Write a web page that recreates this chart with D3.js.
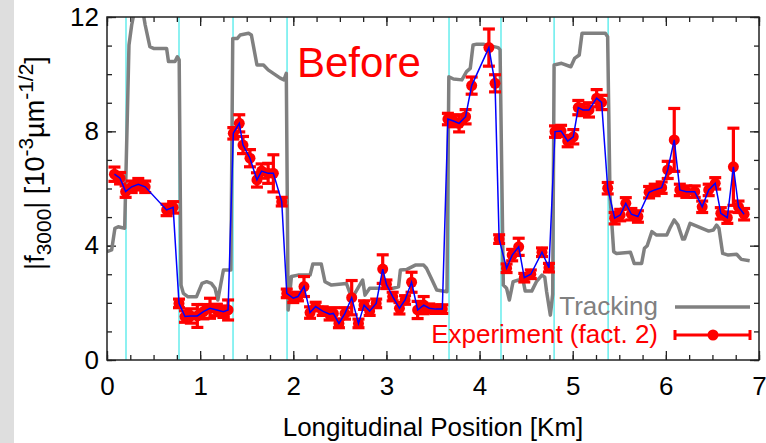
<!DOCTYPE html>
<meta charset="utf-8">
<html>
<head>
<style type="text/css">
  body { margin:0; background:#fff; }
  svg { display:block; }
  .lbl { font-family: "Liberation Sans", Arial, Helvetica, sans-serif; }
</style>
<script src="https://d3js.org/d3.v7.min.js"></script>
</head>
<body>
<svg width="766" height="443"></svg>
<script type="text/javascript">
// experiment (fact. 2): position [km], value, error
var expX = [0.08,0.14,0.20,0.265,0.336,0.41,0.64,0.71,
  0.773,0.837,0.90,0.97,1.035,1.106,1.18,1.25,1.30,
  1.356,1.42,1.46,1.535,1.61,1.66,1.73,1.786,1.876,
  1.93,2.0,2.05,2.115,2.18,2.24,2.316,2.39,2.43,2.49,2.555,2.627,2.70,2.76,2.82,2.89,2.96,3.0,3.067,3.14,3.2,3.27,3.335,3.40,3.46,3.53,3.60,
  3.66,3.72,3.78,3.85,3.915,4.10,4.166,
  4.21,4.29,4.35,4.42,4.48,4.55,4.67,4.745,
  4.81,4.875,4.946,5.006,5.06,5.11,5.175,5.257,5.31,
  5.376,5.45,5.51,5.57,5.63,5.70,5.82,5.88,5.955,6.02,6.09,6.15,6.22,6.31,6.39,6.46,6.53,6.59,6.66,6.725,6.78,6.84];
var expY = [6.50,6.36,5.89,6.06,6.15,6.06,5.25,5.34,
  1.98,1.52,1.54,1.54,1.69,1.81,1.75,1.69,1.75,
  7.93,8.28,7.52,7.06,6.30,6.61,6.53,6.53,5.54,
  2.33,2.16,2.22,2.57,1.66,1.87,1.71,1.60,1.63,1.28,1.63,2.18,1.28,1.92,1.71,1.98,3.18,2.65,2.22,1.81,2.10,2.72,1.75,1.92,1.81,1.78,1.78,
  8.43,8.36,8.28,8.51,9.60,10.93,9.68,
  4.23,3.21,3.67,3.96,2.88,3.00,3.77,3.23,
  7.99,8.01,7.66,7.81,8.83,8.75,8.75,9.16,9.01,
  6.01,4.96,5.07,5.48,5.10,5.02,5.87,5.95,6.03,6.65,7.70,5.95,5.89,5.89,5.36,5.95,6.18,5.13,4.98,6.76,5.36,5.10];
var expErr = [0.25,0.2,0.2,0.2,0.2,0.2,0.2,0.2,
  0.15,0.2,0.25,0.4,0.25,0.35,0.2,0.2,0.35,
  0.2,0.3,0.3,0.3,0.25,0.25,0.35,0.65,0.15,
  0.15,0.15,0.15,0.35,0.2,0.15,0.15,0.2,0.2,0.15,0.2,0.6,0.15,0.15,0.15,0.15,0.5,0.15,0.15,0.2,0.15,0.35,0.3,0.3,0.15,0.15,0.15,
  0.2,0.2,0.3,0.25,0.3,0.65,0.3,
  0.15,0.15,0.2,0.3,0.15,0.15,0.15,0.15,
  0.2,0.2,0.2,0.25,0.25,0.2,0.25,0.3,0.25,
  0.2,0.2,0.2,0.2,0.2,0.2,0.2,0.2,0.2,0.3,1.1,0.2,0.2,0.2,0.2,0.2,0.2,0.2,0.2,1.35,0.2,0.2];

// tracking curve
var trkX = [0.0,0.05,0.085,0.12,0.19,0.236,0.265,0.30,0.38,0.41,0.46,0.50,0.64,0.66,0.73,0.755,0.775,0.795,0.82,0.87,0.96,1.02,1.07,1.12,1.16,1.19,1.25,1.33,
  1.35,1.40,1.43,1.52,1.55,1.61,1.68,1.73,1.86,1.90,1.925,1.945,1.98,2.05,2.18,2.21,2.30,2.34,2.41,2.57,2.63,2.745,2.77,2.82,3.07,3.13,3.15,3.22,3.31,3.40,3.43,3.49,3.54,3.65,
  3.67,3.72,3.81,3.86,3.90,3.93,3.97,4.04,4.20,4.22,4.255,4.29,4.32,4.36,4.42,4.47,4.49,4.56,4.61,4.67,4.70,4.72,4.76,4.785,
  4.80,4.88,4.98,5.02,5.07,5.10,5.35,5.375,5.40,5.44,5.47,5.62,5.66,5.74,5.77,5.80,5.85,5.90,6.01,6.05,6.09,6.13,6.18,6.20,6.26,6.46,6.51,6.545,6.57,6.61,6.67,6.76,6.81,6.90];
var trkY = [3.79,3.85,4.61,4.66,4.61,11.02,11.72,12.3,12.3,11.72,10.96,10.9,10.9,10.44,10.44,10.61,10.5,2.62,2.33,2.21,2.21,2.68,2.74,2.68,2.51,2.10,3.15,3.15,
  11.25,11.25,11.37,11.43,11.37,10.32,10.32,10.15,9.86,9.80,10.03,1.75,2.92,2.97,2.97,3.36,3.36,2.74,2.62,2.68,2.16,2.80,2.27,2.51,2.51,2.56,3.15,3.17,3.32,3.32,3.21,2.80,2.45,2.39,
  9.91,9.83,9.80,10.09,10.2,11.02,11.05,11.05,10.93,10.85,2.62,2.51,2.10,2.74,2.80,2.74,2.41,2.41,2.74,2.97,2.90,2.39,1.57,2.3,
  10.32,10.38,10.26,10.55,10.67,11.43,11.43,11.31,5.77,3.79,3.73,3.77,3.38,3.38,3.91,4.0,4.49,4.37,4.37,4.66,4.90,4.72,4.23,4.23,4.78,4.51,4.55,4.72,4.61,3.73,3.67,3.70,3.52,3.47];

// cyan section markers
var markers = [0.204,0.773,1.353,1.933,3.672,4.23,4.80,5.38];

var xMajor = [0,1,2,3,4,5,6,7];
var yMajor = [0,4,8,12];

var W = 766, H = 443;
var x = d3.scaleLinear().domain([0, 7]).range([107, 759]);
var y = d3.scaleLinear().domain([0, 12]).range([360, 17]);

var svg = d3.select("svg");
var font = "'Liberation Sans', Arial, Helvetica, sans-serif";

svg.append("rect").attr("x", 0).attr("y", 0).attr("width", 14).attr("height", H).attr("fill", "#dedede");

svg.append("defs").append("clipPath").attr("id", "plot")
  .append("rect").attr("x", 107).attr("y", 17).attr("width", 652).attr("height", 343);

// cyan lines
svg.selectAll(".mk").data(markers).enter().append("line")
  .attr("x1", d => x(d)).attr("x2", d => x(d))
  .attr("y1", y(12)).attr("y2", y(0))
  .attr("stroke", "#40e8e8").attr("stroke-width", 1.2);

// axes: inward ticks on all four sides
var minorX = d3.range(0, 7.001, 0.25), minorY = d3.range(0, 12.001, 1);
function ax(gen, sc, vals, size, tx) {
  var g = svg.append("g").attr("transform", tx)
    .call(gen(sc).tickValues(vals).tickSize(size).tickFormat(""));
  g.select(".domain").remove();
  g.selectAll("line").attr("stroke", "#222").attr("stroke-width", 1.3);
  return g;
}
ax(d3.axisBottom, x, minorX, -5, "translate(0,360)");
ax(d3.axisBottom, x, xMajor, -9, "translate(0,360)");
ax(d3.axisTop, x, minorX, -5, "translate(0,17)");
ax(d3.axisTop, x, xMajor, -9, "translate(0,17)");
ax(d3.axisLeft, y, minorY, -5, "translate(107,0)");
ax(d3.axisLeft, y, yMajor, -9, "translate(107,0)");
ax(d3.axisRight, y, minorY, -5, "translate(759,0)");
ax(d3.axisRight, y, yMajor, -9, "translate(759,0)");

var xl = svg.append("g").attr("transform", "translate(0,360)")
  .call(d3.axisBottom(x).tickValues(xMajor).tickSize(0).tickPadding(17).tickFormat(d3.format("d")));
xl.select(".domain").remove();
xl.selectAll("text").attr("font-family", font).attr("font-size", 26).attr("fill", "#000");

var yl = svg.append("g").attr("transform", "translate(107,0)")
  .call(d3.axisLeft(y).tickValues(yMajor).tickSize(0).tickPadding(8).tickFormat(d3.format("d")));
yl.select(".domain").remove();
yl.selectAll("text").attr("font-family", font).attr("font-size", 26).attr("fill", "#000");

// tracking
var trk = trkX.map((d, i) => [d, trkY[i]]);
svg.append("path").datum(trk)
  .attr("clip-path", "url(#plot)")
  .attr("d", d3.line().x(d => x(d[0])).y(d => y(d[1])))
  .attr("fill", "none").attr("stroke", "#808080").attr("stroke-width", 3.5)
  .attr("stroke-linejoin", "round");

// experiment
var exp = expX.map((d, i) => ({x: d, y: expY[i], e: expErr[i]}));
var red = "#ff0000";
var eb = svg.append("g").attr("stroke", red).attr("stroke-width", 3.2);
eb.selectAll(".v").data(exp).enter().append("line")
  .attr("x1", d => x(d.x)).attr("x2", d => x(d.x))
  .attr("y1", d => y(d.y - d.e)).attr("y2", d => y(d.y + d.e));
eb.selectAll(".t").data(exp).enter().append("line")
  .attr("x1", d => x(d.x) - 6).attr("x2", d => x(d.x) + 6)
  .attr("y1", d => y(d.y + d.e)).attr("y2", d => y(d.y + d.e));
eb.selectAll(".b").data(exp).enter().append("line")
  .attr("x1", d => x(d.x) - 6).attr("x2", d => x(d.x) + 6)
  .attr("y1", d => y(d.y - d.e)).attr("y2", d => y(d.y - d.e));
svg.append("g").selectAll("circle").data(exp).enter().append("circle")
  .attr("cx", d => x(d.x)).attr("cy", d => y(d.y)).attr("r", 5.5).attr("fill", red);

svg.append("path").datum(exp)
  .attr("d", d3.line().x(d => x(d.x)).y(d => y(d.y)))
  .attr("fill", "none").attr("stroke", "#0000ff").attr("stroke-width", 1.5);

// frame
svg.append("rect").attr("x", 107).attr("y", 17).attr("width", 652).attr("height", 343)
  .attr("fill", "none").attr("stroke", "#222").attr("stroke-width", 1.5);

// texts
svg.append("text").attr("class", "lbl").attr("x", 297).attr("y", 77)
  .attr("font-size", 42).attr("fill", red).text("Before");

svg.append("text").attr("class", "lbl").attr("x", 433).attr("y", 436)
  .attr("text-anchor", "middle").attr("font-size", 26).text("Longitudinal Position [Km]");

var yt = svg.append("text").attr("class", "lbl")
  .attr("transform", "translate(44,163) rotate(-90)")
  .attr("text-anchor", "middle").attr("font-size", 27);
yt.append("tspan").text("|f");
yt.append("tspan").attr("font-size", 21).attr("dy", 7).text("3000");
yt.append("tspan").attr("dy", -7).text("| [10");
yt.append("tspan").attr("font-size", 21).attr("dy", -11).text("-3");
yt.append("tspan").attr("dy", 11).text("\u00b5m");
yt.append("tspan").attr("font-size", 21).attr("dy", -11).text("-1/2");
yt.append("tspan").attr("dy", 11).text("]");

// legend
svg.append("text").attr("class", "lbl").attr("x", 658).attr("y", 315)
  .attr("text-anchor", "end").attr("font-size", 26).attr("fill", "#808080").text("Tracking");
svg.append("line").attr("x1", 675).attr("x2", 750).attr("y1", 307).attr("y2", 307)
  .attr("stroke", "#808080").attr("stroke-width", 3.5);

svg.append("text").attr("class", "lbl").attr("x", 658).attr("y", 343)
  .attr("text-anchor", "end").attr("font-size", 26).attr("fill", red).text("Experiment (fact. 2)");
var lg = svg.append("g").attr("stroke", red).attr("stroke-width", 3);
lg.append("line").attr("x1", 675).attr("x2", 750).attr("y1", 335).attr("y2", 335);
lg.append("line").attr("x1", 675).attr("x2", 675).attr("y1", 330).attr("y2", 340);
lg.append("line").attr("x1", 750).attr("x2", 750).attr("y1", 330).attr("y2", 340);
svg.append("circle").attr("cx", 713).attr("cy", 335).attr("r", 5.5).attr("fill", red);
</script>
</body>
</html>
